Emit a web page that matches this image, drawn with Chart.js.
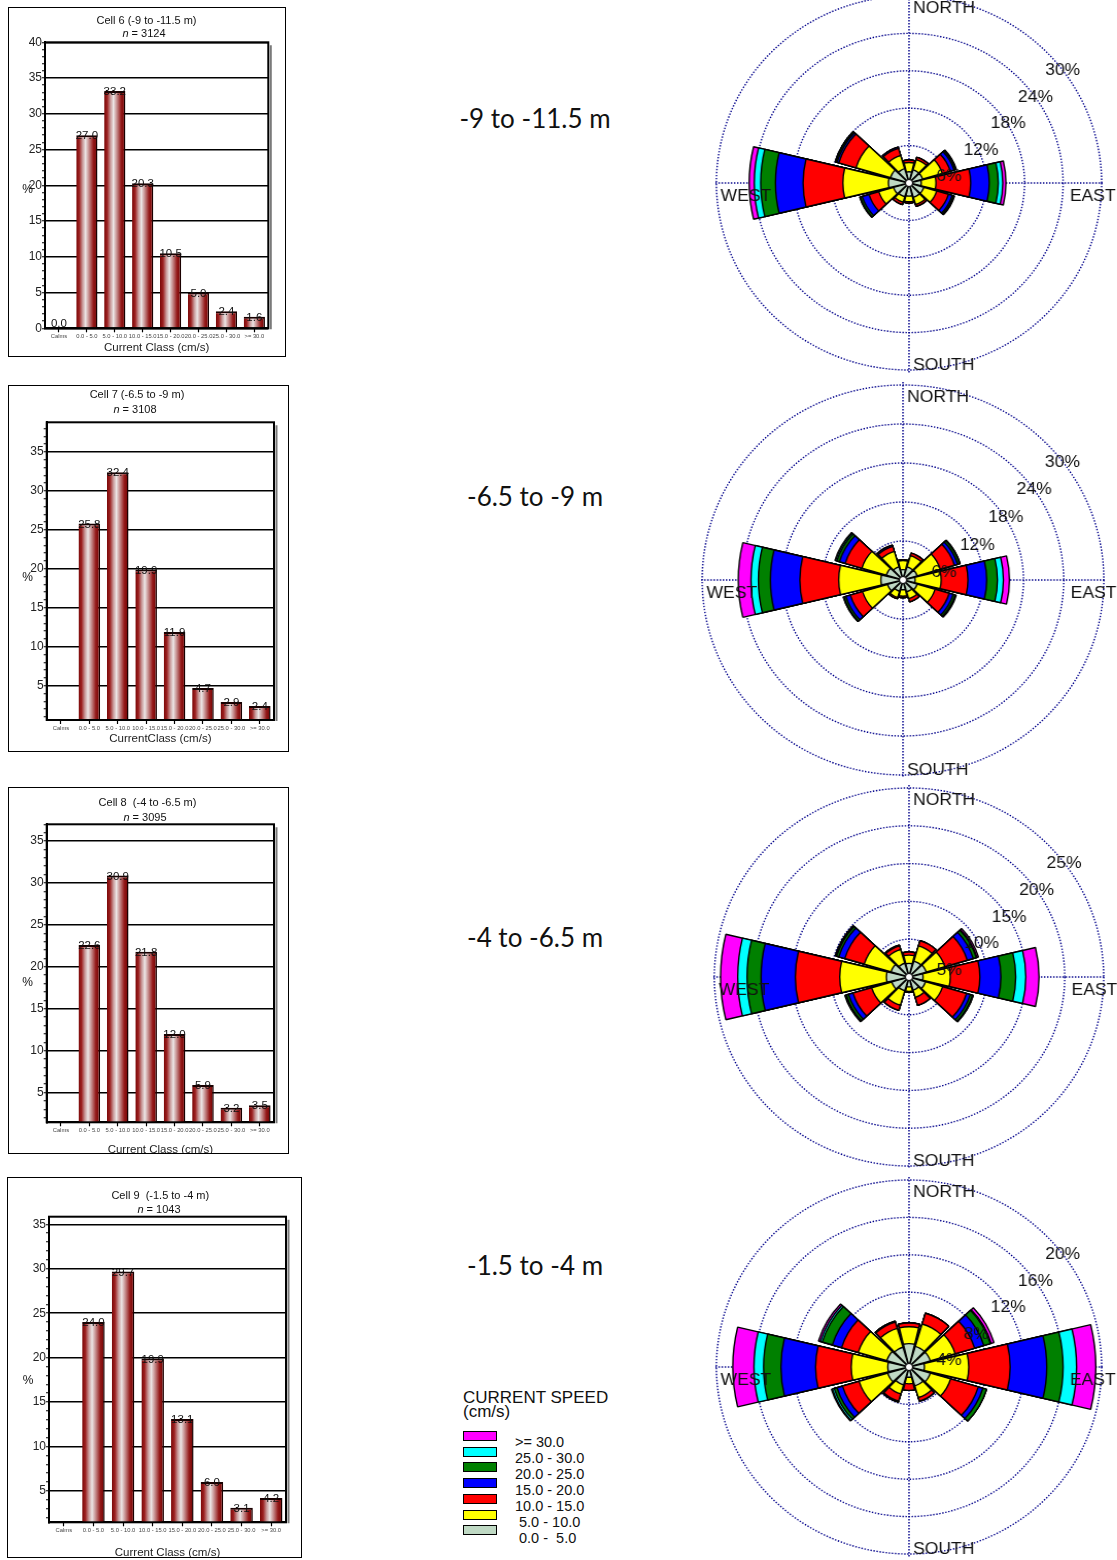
<!DOCTYPE html>
<html>
<head>
<meta charset="utf-8">
<script src="https://cdn.jsdelivr.net/npm/chart.js@4.4.1/dist/chart.umd.min.js"></script>
<style>
  html, body { margin: 0; padding: 0; background: #fff; }
  body { position: relative; width: 1117px; height: 1560px; overflow: hidden;
         font-family: "Liberation Sans", Arial, sans-serif; color: #111; }
  .box { position: absolute; border: 1px solid #000; box-sizing: border-box; overflow: hidden; background: #fff; }
  .box canvas { position: absolute; left: 0; top: 0; }
  .ttl { position: absolute; font-size: 11px; line-height: 13px; white-space: pre; transform: translate(-50%, -50%); }
  .pct { position: absolute; font-size: 12px; transform: translate(-50%, -50%); }
  .depth { position: absolute; font-family: Lato, "Open Sans", sans-serif; font-size: 26px; white-space: nowrap;
           transform: translate(-50%, -50%); color: #111; }
  .rose { position: absolute; transform: scaleX(1.03); }
  .lg-title { position: absolute; left: 463px; top: 1391px; font-size: 17px; line-height: 13.5px; }
  .lg-sw { position: absolute; left: 463px; width: 34px; height: 10px; border: 1.5px solid #000; box-sizing: border-box; }
  .lg-tx { position: absolute; left: 515px; font-size: 14.5px; white-space: pre; transform: translateY(-50%); }
</style>
</head>
<body>
<script>
// ---------------- data ----------------
const CLASS_LABELS = ['Calms', '0.0 - 5.0', '5.0 - 10.0', '10.0 - 15.0', '15.0 - 20.0', '20.0 - 25.0', '25.0 - 30.0', '>= 30.0'];

// percentage of records per current-speed class
const CELL6_PCT = [0.0, 27.0, 33.2, 20.3, 10.5, 5.0, 2.4, 1.6];
const CELL7_PCT = [0.0, 25.8, 32.4, 19.9, 11.9, 4.7, 2.9, 2.4];
const CELL8_PCT = [0.0, 22.6, 30.9, 21.8, 12.0, 5.9, 3.2, 3.5];
const CELL9_PCT = [0.0, 24.0, 29.7, 19.9, 13.1, 6.0, 3.1, 4.2];

const CELL_TITLES = ['Cell 6 (-9 to -11.5 m)', 'Cell 7 (-6.5 to -9 m)', 'Cell 8  (-4 to -6.5 m)', 'Cell 9  (-1.5 to -4 m)'];
const CELL_COUNTS = [3124, 3108, 3095, 1043];
const X_TITLES = ['Current Class (cm/s)', 'CurrentClass (cm/s)', 'Current Class (cm/s)', 'Current Class (cm/s)'];
const Y_RANGES = [[0, 40], [0.6, 38.8], [1.46, 37.0], [1.47, 35.86]];

const DEPTH_LABELS = ['-9 to -11.5 m', '-6.5 to -9 m', '-4 to -6.5 m', '-1.5 to -4 m'];

// current rose: 12 direction sectors (N, then clockwise every 30 degrees)
const DIRECTIONS = ['N', '30', '60', 'E', '120', '150', 'S', '210', '240', 'W', '300', '330'];
const SPEED_LABELS = [' 0.0 -  5.0', ' 5.0 - 10.0', '10.0 - 15.0', '15.0 - 20.0', '20.0 - 25.0', '25.0 - 30.0', '>= 30.0'];
const SPEED_COLORS = ['#bfd9c4', '#ffff00', '#ff0000', '#0000ff', '#008000', '#00ffff', '#ff00ff'];

// rows: speed class (slowest first); columns: direction sector (%)
const CELL6_ROSE = [
  [1.8, 2.2, 2.2, 1.9, 2.4, 2.4, 2.1, 2.3, 2.5, 3.2, 3.0, 2.4],
  [1.5, 1.7, 3.2, 2.3, 2.1, 1.2, 0.9, 0.9, 2.4, 7.1, 5.6, 2.2],
  [0.4, 0.4, 1.3, 5.4, 1.9, 0.3, 0.2, 0.4, 1.6, 6.2, 2.8, 1.2],
  [0.0, 0.0, 0.6, 2.9, 0.6, 0.0, 0.0, 0.0, 1.1, 4.3, 0.3, 0.2],
  [0.0, 0.0, 0.2, 1.4, 0.2, 0.0, 0.0, 0.0, 0.3, 2.3, 0.2, 0.0],
  [0.0, 0.0, 0.1, 0.7, 0.1, 0.0, 0.0, 0.0, 0.1, 1.0, 0.1, 0.0],
  [0.0, 0.0, 0.1, 0.5, 0.1, 0.0, 0.0, 0.0, 0.0, 0.8, 0.0, 0.0]
];
const CELL7_ROSE = [
  [1.6, 2.1, 2.2, 1.8, 2.2, 1.9, 1.5, 1.8, 2.4, 3.3, 2.6, 2.1],
  [1.4, 1.8, 3.6, 3.9, 2.8, 1.1, 1.0, 1.0, 3.9, 6.3, 3.8, 2.5],
  [0.1, 0.4, 2.2, 4.0, 2.2, 0.5, 0.2, 0.2, 1.9, 5.8, 2.6, 0.8],
  [0.0, 0.0, 0.5, 2.8, 0.6, 0.0, 0.0, 0.0, 0.7, 4.4, 0.9, 0.2],
  [0.0, 0.0, 0.3, 1.6, 0.3, 0.0, 0.0, 0.0, 0.3, 1.8, 0.4, 0.0],
  [0.0, 0.0, 0.1, 0.9, 0.1, 0.0, 0.0, 0.0, 0.1, 1.1, 0.2, 0.0],
  [0.0, 0.0, 0.0, 0.9, 0.1, 0.0, 0.0, 0.0, 0.0, 1.9, 0.1, 0.0]
];
const CELL8_ROSE = [
  [1.8, 2.2, 2.3, 1.8, 2.2, 1.8, 1.3, 1.9, 2.3, 2.9, 2.4, 1.9],
  [1.1, 2.1, 2.5, 3.5, 2.3, 1.0, 0.6, 2.0, 2.7, 6.0, 3.6, 1.9],
  [0.4, 0.7, 3.0, 3.8, 3.2, 1.1, 0.1, 0.7, 2.5, 5.7, 2.6, 0.5],
  [0.0, 0.0, 0.8, 2.7, 0.5, 0.0, 0.0, 0.0, 0.6, 4.4, 0.8, 0.1],
  [0.0, 0.0, 0.4, 1.9, 0.3, 0.0, 0.0, 0.0, 0.3, 1.8, 0.3, 0.0],
  [0.0, 0.0, 0.1, 1.3, 0.1, 0.0, 0.0, 0.0, 0.1, 1.2, 0.1, 0.0],
  [0.0, 0.0, 0.2, 1.7, 0.0, 0.0, 0.0, 0.0, 0.1, 2.2, 0.1, 0.0]
];
const CELL9_ROSE = [
  [2.5, 2.3, 2.3, 1.6, 2.3, 2.1, 1.1, 2.0, 2.3, 2.2, 2.4, 2.2],
  [1.8, 2.5, 2.7, 4.6, 2.2, 1.3, 0.7, 1.0, 3.1, 3.8, 3.1, 2.1],
  [0.4, 1.2, 2.1, 4.3, 3.0, 0.4, 0.7, 0.8, 1.8, 3.7, 1.8, 0.7],
  [0.0, 0.0, 1.0, 3.8, 0.5, 0.0, 0.0, 0.1, 0.6, 3.6, 1.0, 0.1],
  [0.0, 0.0, 0.7, 1.7, 0.4, 0.0, 0.0, 0.0, 0.3, 1.8, 1.1, 0.0],
  [0.0, 0.0, 0.1, 1.4, 0.0, 0.0, 0.0, 0.0, 0.2, 1.0, 0.2, 0.0],
  [0.0, 0.0, 0.3, 2.0, 0.0, 0.0, 0.0, 0.0, 0.1, 2.2, 0.2, 0.0]
];
const ROSE_MAX = [30, 30, 25, 20];
const ROSE_STEP = [6, 6, 5, 4];

// ---------------- layout ----------------
const BAR_LAYOUT = [
  { box: [8, 7, 278, 350],    plot: [45, 42.3, 268.3, 328.3],    xTitleY: 348,  t1: [146.5, 20],    t2: [144, 33],      pct: [27.5, 189] },
  { box: [8, 385, 281, 367],  plot: [46.7, 422.3, 274, 720],     xTitleY: 739,  t1: [137, 394.3],   t2: [135, 409.3],   pct: [27.5, 577] },
  { box: [8, 787, 281, 367],  plot: [46.7, 824.3, 274, 1122.3],  xTitleY: 1150, t1: [147.5, 801.7], t2: [145, 816.7],   pct: [27.5, 982] },
  { box: [7, 1177, 295, 381], plot: [49, 1216.7, 286, 1522.3],   xTitleY: 1553, t1: [160.3, 1195],  t2: [159, 1209.3],  pct: [28, 1380] }
];
const DEPTH_POS = [[535, 118], [535, 496], [535, 937], [535, 1265]];
const ROSE_LAYOUT = [
  { cx: 909, cy: 183, R: 187 },
  { cx: 903, cy: 580, R: 195 },
  { cx: 909, cy: 977, R: 189 },
  { cx: 909, cy: 1367, R: 187 }
];
const SECTOR_DEG = 27, GAP_DEG = 3, BAR_PCT = 0.76;
const GRID_BLUE = '#00008b';

Chart.defaults.font.family = "'Liberation Sans', Arial, sans-serif";
Chart.defaults.color = '#222';

const BAR_VALUES = [CELL6_PCT, CELL7_PCT, CELL8_PCT, CELL9_PCT];
const ROSE_VALUES = [CELL6_ROSE, CELL7_ROSE, CELL8_ROSE, CELL9_ROSE];

function el(tag, cls, css, text) {
  const e = document.createElement(tag);
  if (cls) e.className = cls;
  if (css) Object.assign(e.style, css);
  if (text !== undefined) e.textContent = text;
  document.body.appendChild(e);
  return e;
}

// plot frame with a soft shadow on the right
const framePlugin = {
  id: 'frame',
  afterDraw(chart) {
    const { ctx, chartArea: a } = chart;
    ctx.save();
    ctx.strokeStyle = '#7a7a7a';
    ctx.lineWidth = 2;
    ctx.beginPath();
    ctx.moveTo(a.right + 2.5, a.top + 3);
    ctx.lineTo(a.right + 2.5, a.bottom + 1);
    ctx.stroke();
    ctx.strokeStyle = '#000';
    ctx.lineWidth = 2;
    ctx.strokeRect(a.left, a.top, a.right - a.left, a.bottom - a.top);
    ctx.restore();
  }
};

// value printed at the top of each bar
const barValuePlugin = {
  id: 'barValues',
  afterDatasetsDraw(chart) {
    const { ctx, chartArea } = chart;
    const ys = chart.scales.y;
    const data = chart.data.datasets[0].data;
    const meta = chart.getDatasetMeta(0);
    ctx.save();
    ctx.font = "11.5px 'Liberation Sans', Arial, sans-serif";
    ctx.fillStyle = '#111';
    ctx.textAlign = 'center';
    ctx.textBaseline = 'middle';
    meta.data.forEach((bar, i) => {
      const v = data[i];
      if (v < ys.min) return;
      const ty = Math.min(bar.y + 1, chartArea.bottom - 4);
      ctx.fillText(v.toFixed(1), bar.x, ty);
    });
    ctx.restore();
  }
};

function barGradient(c) {
  const chart = c.chart;
  const xs = chart.scales.x;
  const area = chart.chartArea;
  if (!area || !xs) return '#8b1010';
  const cx = xs.getPixelForValue(c.dataIndex);
  const w = (area.right - area.left) / CLASS_LABELS.length * BAR_PCT;
  const g = chart.ctx.createLinearGradient(cx - w / 2, 0, cx + w / 2, 0);
  g.addColorStop(0.0, '#7a0808');
  g.addColorStop(0.14, '#9c2020');
  g.addColorStop(0.30, '#c99a9a');
  g.addColorStop(0.44, '#ebe4e4');
  g.addColorStop(0.60, '#c58c8c');
  g.addColorStop(0.80, '#951a1a');
  g.addColorStop(1.0, '#6e0000');
  return g;
}

function makeBarChart(i) {
  const L = BAR_LAYOUT[i];
  const box = el('div', 'box', { left: L.box[0] + 'px', top: L.box[1] + 'px', width: L.box[2] + 'px', height: L.box[3] + 'px' });
  const ox = L.box[0] + 1, oy = L.box[1] + 1;
  const pl = L.plot[0] - ox, pt = L.plot[1] - oy, pr = L.plot[2] - ox, pb = L.plot[3] - oy;
  const xH = L.xTitleY - L.plot[3] + 7;
  const cw = L.box[2] - 2;
  const ch = Math.ceil(pb + xH + 2);
  const canvas = document.createElement('canvas');
  canvas.width = cw; canvas.height = ch;
  box.appendChild(canvas);

  const [ymin, ymax] = Y_RANGES[i];
  new Chart(canvas, {
    type: 'bar',
    data: {
      labels: CLASS_LABELS,
      datasets: [{
        data: BAR_VALUES[i],
        backgroundColor: barGradient,
        borderColor: '#1a0000',
        borderWidth: { top: 2, right: 1.5, bottom: 0, left: 0 },
        borderSkipped: 'start',
        categoryPercentage: 1,
        barPercentage: BAR_PCT
      }]
    },
    options: {
      responsive: false, animation: false, devicePixelRatio: 1,
      layout: { padding: { left: 0, top: pt, right: cw - pr, bottom: ch - pb - xH } },
      plugins: { legend: { display: false }, tooltip: { enabled: false }, title: { display: false } },
      scales: {
        x: {
          grid: { display: true, drawOnChartArea: false, offset: false, tickLength: 4, tickColor: '#000', tickWidth: 1.2 },
          border: { color: '#000', width: 2 },
          ticks: { font: { size: 5.8 }, color: '#444', padding: 1, maxRotation: 0, minRotation: 0, autoSkip: false },
          title: { display: true, text: X_TITLES[i], color: '#222', padding: 0,
                   font: { family: "'Liberation Sans', Arial, sans-serif", size: 11.5 } },
          afterFit: s => { s.height = xH; }
        },
        y: {
          min: ymin, max: ymax,
          afterFit: s => { s.width = pl; },
          ticks: {
            stepSize: 1, maxTicksLimit: 50, includeBounds: false, autoSkip: false,
            callback: v => (Math.abs(v % 5) < 1e-6 ? String(v) : ''),
            font: { size: 12 }, color: '#222', padding: 0
          },
          grid: {
            color: c => (c.tick && Math.abs(c.tick.value % 5) < 1e-6) ? '#000' : 'rgba(0,0,0,0)',
            lineWidth: 1.5, tickColor: '#000', tickLength: 3, tickWidth: 1
          },
          border: { color: '#000', width: 2 }
        }
      }
    },
    plugins: [framePlugin, barValuePlugin]
  });

  el('div', 'ttl', { left: L.t1[0] + 'px', top: L.t1[1] + 'px' }, CELL_TITLES[i]);
  const t2 = el('div', 'ttl', { left: L.t2[0] + 'px', top: L.t2[1] + 'px' });
  t2.innerHTML = '<i>n</i> = ' + CELL_COUNTS[i];
  el('div', 'pct', { left: L.pct[0] + 'px', top: L.pct[1] + 'px' }, '%');
}

// ---------------- roses ----------------
function cumulative(rows) {
  const out = [];
  let acc = rows[0].map(() => 0);
  rows.forEach(r => {
    acc = acc.map((a, d) => Math.round((a + r[d]) * 100) / 100);
    out.push(acc);
  });
  return out;
}
function withGaps(values) {
  const o = [];
  values.forEach(v => { o.push(v); o.push(0); });
  return o;
}

const roseDecorPlugin = {
  id: 'roseDecor',
  beforeDatasetsDraw(chart) {
    const r = chart.scales.r;
    const { ctx } = chart;
    const cx = r.xCenter, cy = r.yCenter, R = r.drawingArea;
    ctx.save();
    ctx.strokeStyle = GRID_BLUE;
    ctx.lineWidth = 1.4;
    ctx.setLineDash([1.4, 1.6]);
    ctx.beginPath();
    ctx.moveTo(cx, cy - R - 3); ctx.lineTo(cx, cy + R + 3);
    ctx.moveTo(cx - R - 1, cy); ctx.lineTo(cx + R + 1, cy);
    ctx.stroke();
    ctx.restore();
  },
  afterDatasetsDraw(chart) {
    const r = chart.scales.r;
    const { ctx } = chart;
    const cx = r.xCenter, cy = r.yCenter, R = r.drawingArea;
    ctx.save();
    // calm circle
    ctx.beginPath();
    ctx.arc(cx, cy, 3.5, 0, Math.PI * 2);
    ctx.fillStyle = '#fff';
    ctx.fill();
    ctx.lineWidth = 1;
    ctx.strokeStyle = '#000';
    ctx.stroke();
    // compass points
    ctx.fillStyle = '#111';
    ctx.font = "17px 'Liberation Sans', Arial, sans-serif";
    ctx.textAlign = 'left';
    ctx.textBaseline = 'middle';
    ctx.fillText('NORTH', cx + 4, cy - 0.935 * R);
    ctx.fillText('SOUTH', cx + 4, cy + 0.975 * R);
    ctx.fillText('EAST', cx + 0.835 * R, cy + 13);
    ctx.fillText('WEST', cx - 0.978 * R, cy + 13);
    // ring values along the north-east diagonal
    r.ticks.forEach(t => {
      if (t.value === 0) return;
      const d = r.getDistanceFromCenterForValue(t.value);
      ctx.fillText(t.value + '%', cx + d * 0.707, cy - d * 0.707 + 20);
    });
    ctx.restore();
  }
};

function makeRose(i) {
  const L = ROSE_LAYOUT[i];
  const P = 30;
  const size = 2 * (L.R + P);
  const canvas = el('canvas', 'rose', { left: (L.cx - L.R - P) + 'px', top: (L.cy - L.R - P) + 'px' });
  canvas.width = size; canvas.height = size;

  const cum = cumulative(ROSE_VALUES[i]);
  const labels = [];
  DIRECTIONS.forEach(d => { labels.push(d); labels.push(''); });

  new Chart(canvas, {
    type: 'polarArea',
    data: {
      labels,
      // slowest class first so it is painted on top of the faster (longer) bands
      datasets: cum.map((vals, k) => ({
        label: SPEED_LABELS[k],
        data: withGaps(vals),
        backgroundColor: SPEED_COLORS[k],
        borderColor: '#000',
        borderWidth: c => (c.dataIndex % 2 ? 0 : 1.4),
        angle: c => (c.dataIndex % 2 ? GAP_DEG : SECTOR_DEG)
      }))
    },
    options: {
      responsive: false, animation: false, devicePixelRatio: 1,
      layout: { padding: P },
      plugins: { legend: { display: false }, tooltip: { enabled: false } },
      scales: {
        r: {
          min: 0, max: ROSE_MAX[i],
          startAngle: -SECTOR_DEG / 2,
          ticks: { display: false, stepSize: ROSE_STEP[i] },
          grid: { color: GRID_BLUE, lineWidth: 1.4 },
          border: { dash: [1.4, 1.6] },
          angleLines: { display: false },
          pointLabels: { display: false }
        }
      }
    },
    plugins: [roseDecorPlugin]
  });
}

// ---------------- build page ----------------
for (let i = 0; i < 4; i++) {
  makeBarChart(i);
  el('div', 'depth', { left: DEPTH_POS[i][0] + 'px', top: DEPTH_POS[i][1] + 'px' }, DEPTH_LABELS[i]);
  makeRose(i);
}

// speed legend
const lg = el('div', 'lg-title');
lg.innerHTML = 'CURRENT SPEED<br>(cm/s)';
for (let k = SPEED_LABELS.length - 1, row = 0; k >= 0; k--, row++) {
  el('div', 'lg-sw', { top: (1431 + row * 15.7) + 'px', background: SPEED_COLORS[k] });
  el('div', 'lg-tx', { top: (1441.5 + row * 16.1) + 'px' }, SPEED_LABELS[k]);
}
</script>
</body>
</html>
